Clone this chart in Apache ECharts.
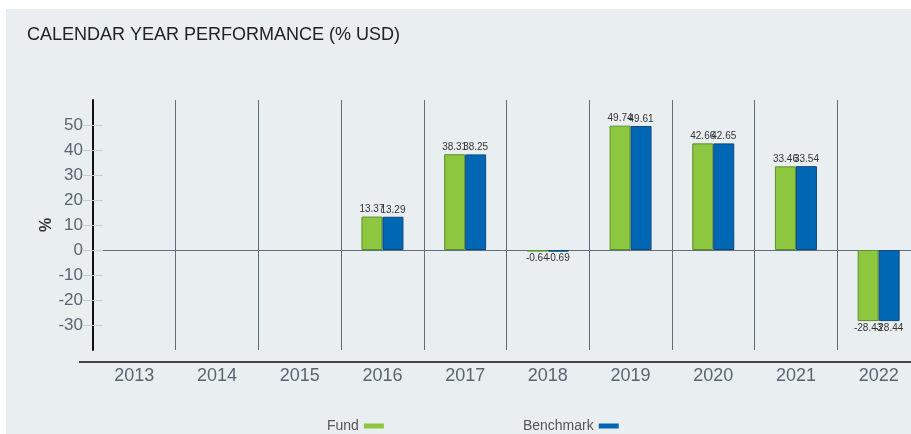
<!DOCTYPE html>
<html>
<head>
<meta charset="utf-8">
<script src="https://cdn.jsdelivr.net/npm/echarts@6/dist/echarts.min.js"></script>
<style>
    html, body { margin: 0; padding: 0; background: #fff; }
    #chart { position: absolute; left: 6px; top: 9px; width: 905px; height: 425px; background: #e9eef1; }
</style>
</head>
<body>
<div id="chart"></div>
<script>
// data
var years = ['2013', '2014', '2015', '2016', '2017', '2018', '2019', '2020', '2021', '2022'];
var fund = [null, null, null, 13.37, 38.31, -0.64, 49.74, 42.66, 33.46, -28.43];
var benchmark = [null, null, null, 13.29, 38.25, -0.69, 49.61, 42.65, 33.54, -28.44];
var yTicks = [-30, -20, -10, 0, 10, 20, 30, 40, 50];

function toItems(arr) {
    var out = [];
    for (var i = 0; i < arr.length; i++) {
        if (arr[i] === null) {
            out.push(null);
            continue;
        }
        out.push({
            value: arr[i],
            label: { position: arr[i] < 0 ? 'bottom' : 'top' }
        });
    }
    return out;
}

var myChart = echarts.init(document.getElementById('chart'));
var barLabel = {
    show: true,
    fontSize: 10,
    color: '#333',
    distance: 2,
    formatter: function (p) { return p.value.toFixed(2); }
};

var option = {
    animation: false,
    textStyle: { fontFamily: 'Liberation Sans, Arial, sans-serif' },
    title: {
        text: 'CALENDAR YEAR PERFORMANCE (% USD)',
        left: 16,
        top: 12,
        textStyle: { fontSize: 18, fontWeight: 'normal', color: '#222' }
    },
    legend: {
        data: ['Fund', 'Benchmark'],
        left: 316,
        top: 405,
        align: 'right',
        icon: 'rect',
        itemWidth: 20,
        itemHeight: 5,
        itemGap: 139,
        itemStyle: { borderWidth: 0 },
        textStyle: { fontSize: 14, color: '#555' }
    },
    // bottom axis rule, starts a little left of the plot like the original
    graphic: [{
        type: 'line',
        shape: { x1: 73, y1: 353, x2: 905, y2: 353 },
        style: { stroke: '#444', lineWidth: 2 },
        silent: true
    }],
    grid: {
        left: 87,
        top: 91,
        width: 827,
        height: 250,
        outerBoundsMode: 'none',
        containLabel: false
    },
    xAxis: [
        {
            type: 'category',
            data: years,
            axisLine: { onZero: true, lineStyle: { color: '#5f6e79', width: 1 } },
            axisTick: { show: false },
            axisLabel: { show: false },
            splitLine: { show: true, lineStyle: { color: '#5f6e79', width: 1 } }
        },
        {
            type: 'category',
            data: years,
            position: 'bottom',
            offset: 12,
            axisLine: { show: false, onZero: false },
            axisTick: { show: false },
            axisLabel: { fontSize: 18, color: '#5a6570', margin: 5 },
            splitLine: { show: false }
        }
    ],
    yAxis: [
        {
            type: 'value',
            min: -40,
            max: 60,
            interval: 10,
            name: '%',
            nameLocation: 'middle',
            nameGap: 38,
            nameMoveOverlap: false,
            nameRotate: 90,
            nameTextStyle: { fontSize: 16, fontWeight: 'bold', color: '#333' },
            axisLine: { show: true, lineStyle: { color: '#111', width: 2 } },
            axisTick: { show: true, length: 10, customValues: yTicks, lineStyle: { color: '#c9cdd0' } },
            axisLabel: { fontSize: 17, color: '#5a6570', margin: 10, customValues: yTicks },
            splitLine: { show: false }
        },
        {
            type: 'value',
            position: 'left',
            offset: 0,
            min: -40,
            max: 60,
            interval: 10,
            axisLine: { show: false },
            axisTick: { show: true, inside: true, length: 10, customValues: yTicks, lineStyle: { color: '#c9cdd0' } },
            axisLabel: { show: false },
            splitLine: { show: false }
        }
    ],
    series: [
        {
            name: 'Fund',
            type: 'bar',
            barWidth: 21,
            barGap: '0%',
            data: toItems(fund),
            itemStyle: { color: '#8dc63f', borderColor: '#5e8f2b', borderWidth: 1 },
            label: barLabel
        },
        {
            name: 'Benchmark',
            type: 'bar',
            barWidth: 21,
            barGap: '0%',
            data: toItems(benchmark),
            itemStyle: { color: '#0067b5', borderColor: '#0b4a7e', borderWidth: 1 },
            label: barLabel
        }
    ]
};

myChart.setOption(option);
</script>
</body>
</html>
